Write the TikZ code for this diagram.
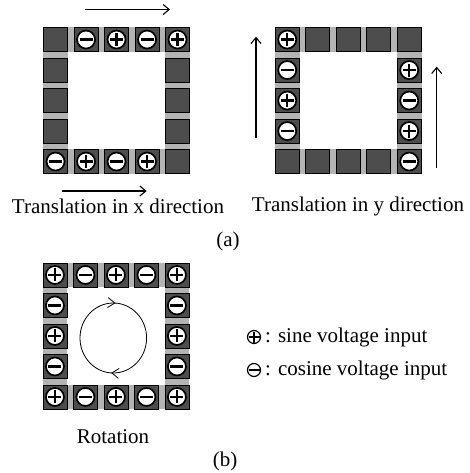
\documentclass[tikz,border=0pt]{standalone}
\usepackage{fontspec}
\setmainfont{Liberation Serif}
\usetikzlibrary{arrows.meta,decorations.markings}
\definecolor{darksq}{HTML}{4D4D4D}
\definecolor{gapgray}{HTML}{B4B4B4}
\begin{document}
\begin{tikzpicture}[x=1pt,y=-1pt,
  sq/.style={draw=black, line width=0.6pt, fill=darksq, minimum size=24pt, inner sep=0pt},
  sym/.style={circle, draw=black, line width=1.7pt, fill=white, minimum size=18pt, inner sep=0pt},
  splus/.style={sym, path picture={
     \draw[line width=2.3pt] ([xshift=-6.5pt]path picture bounding box.center) -- ([xshift=6.5pt]path picture bounding box.center);
     \draw[line width=2.3pt] ([yshift=-6.5pt]path picture bounding box.center) -- ([yshift=6.5pt]path picture bounding box.center);}},
  sminus/.style={sym, path picture={
     \draw[line width=2.3pt] ([xshift=-6.5pt]path picture bounding box.center) -- ([xshift=6.5pt]path picture bounding box.center);}},
  lsym/.style={circle, draw=black, line width=1.2pt, fill=white, minimum size=13pt, inner sep=0pt},
  lplus/.style={lsym, path picture={
     \draw[line width=1.9pt] ([xshift=-5.5pt]path picture bounding box.center) -- ([xshift=5.5pt]path picture bounding box.center);
     \draw[line width=1.9pt] ([yshift=-5.5pt]path picture bounding box.center) -- ([yshift=5.5pt]path picture bounding box.center);}},
  lminus/.style={lsym, path picture={
     \draw[line width=1.9pt] ([xshift=-5.5pt]path picture bounding box.center) -- ([xshift=5.5pt]path picture bounding box.center);}},
  lab/.style={font=\fontsize{21}{25}\selectfont, inner sep=0pt},
  arr/.style={line width=1.1pt, -{Straight Barb[length=6pt,width=10pt]}},
  rotarr/.style={line width=0.8pt}
]
\useasboundingbox (0,0) rectangle (469,473);

% ---------- ring backgrounds ----------
\foreach \gx/\gy in {43.3/27.3, 275/27.3, 42.7/262.7}{
  \fill[gapgray] (\gx,\gy) rectangle ++(146.5,146.5);
  \fill[white] (\gx+24.5,\gy+24.5) rectangle ++(97.5,97.5);
}

% ---------- squares of the three grids ----------
\foreach \g/\gx/\gy in {X/43.3/27.3, Y/275/27.3, R/42.7/262.7}{
  \foreach \i in {0,...,4}{
    \node[sq] (\g-\i-0) at (\gx+12.25+30.5*\i,\gy+12.25) {};
    \node[sq] (\g-\i-4) at (\gx+12.25+30.5*\i,\gy+12.25+122) {};
  }
  \foreach \j in {1,2,3}{
    \node[sq] (\g-0-\j) at (\gx+12.25,\gy+12.25+30.5*\j) {};
    \node[sq] (\g-4-\j) at (\gx+12.25+122,\gy+12.25+30.5*\j) {};
  }
}

% ---------- symbols: translation in x ----------
\foreach \n/\s in {X-1-0/sminus, X-2-0/splus, X-3-0/sminus, X-4-0/splus,
                   X-0-4/sminus, X-1-4/splus, X-2-4/sminus, X-3-4/splus}{
  \node[\s] (s\n) at (\n.center) {};
}
% ---------- symbols: translation in y ----------
\foreach \n/\s in {Y-0-0/splus, Y-0-1/sminus, Y-0-2/splus, Y-0-3/sminus,
                   Y-4-1/splus, Y-4-2/sminus, Y-4-3/splus, Y-4-4/sminus}{
  \node[\s] (s\n) at (\n.center) {};
}
% ---------- symbols: rotation ----------
\foreach \n/\s in {R-0-0/splus, R-1-0/sminus, R-2-0/splus, R-3-0/sminus, R-4-0/splus,
                   R-0-1/sminus, R-0-2/splus, R-0-3/sminus,
                   R-4-1/sminus, R-4-2/splus, R-4-3/sminus,
                   R-0-4/splus, R-1-4/sminus, R-2-4/splus, R-3-4/sminus, R-4-4/splus}{
  \node[\s] (s\n) at (\n.center) {};
}

% ---------- arrows ----------
\coordinate (xa1) at (85,9.5);   \coordinate (xa2) at (170,9.5);
\coordinate (xb1) at (61.7,191); \coordinate (xb2) at (146.7,191);
\coordinate (ya1) at (256,138);  \coordinate (ya2) at (256,36.7);
\coordinate (yb1) at (436.7,168);\coordinate (yb2) at (436.7,66.7);
\draw[arr] (xa1) -- (xa2);
\draw[arr] (xb1) -- (xb2);
\draw[arr] (ya1) -- (ya2);
\draw[arr] (yb1) -- (yb2);

% ---------- rotation circle ----------
\coordinate (rc) at (113.3,338);
\draw[rotarr, postaction={decorate}, decoration={markings,
   mark=at position 0.26 with {\arrow[line width=0.8pt]{Straight Barb[length=7pt,width=10pt]}},
   mark=at position 0.76 with {\arrow[line width=0.8pt]{Straight Barb[length=7pt,width=10pt]}}}]
   (rc) ellipse [x radius=33.3, y radius=35];

% ---------- labels ----------
\node[lab] (lx) at (118,206) {Translation in x direction};
\node[lab] (ly) at (358,206) {Translation in y direction};
\node[lab] (la) at (228,241) {(a)};
\node[lab] (lr) at (113,437) {Rotation};
\node[lab] (lb) at (225,461) {(b)};

% ---------- legend ----------
\node[lplus] (lgp) at (254,337) {};
\node[lminus] (lgm) at (254,370) {};
\node[lab, anchor=west] (lgpt) at (265,337) {: sine voltage input};
\node[lab, anchor=west] (lgmt) at (265,370) {: cosine voltage input};
\end{tikzpicture}
\end{document}
